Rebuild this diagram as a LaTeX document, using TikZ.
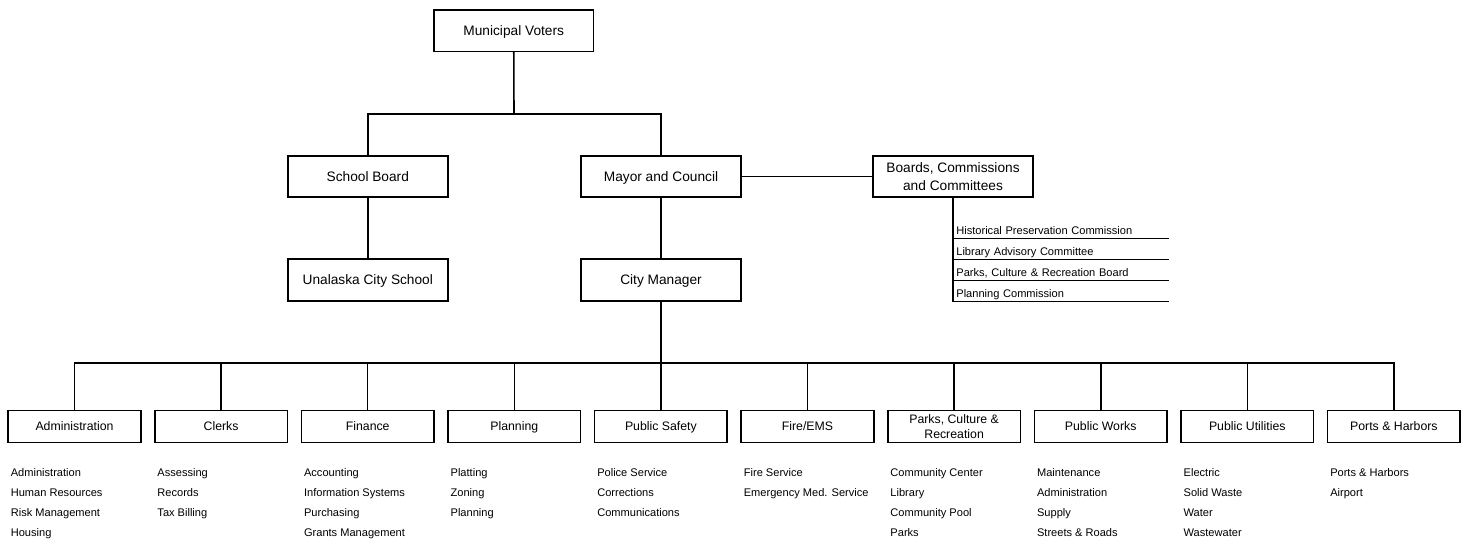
\documentclass[tikz,border=0pt]{standalone}
\usepackage{fontspec}
\setmainfont{Liberation Sans}
\tikzset{
  unit/.style={draw, line width=0.9pt, minimum width=3.2cm, minimum height=0.83cm,
    text depth=0pt, align=center, font=\fontsize{7.8}{10.2}\selectfont},
  dept/.style={draw, line width=0.9pt, minimum width=2.65cm, minimum height=0.64cm,
    inner sep=1pt, text depth=0pt, align=center, font=\fontsize{7}{8.3}\selectfont},
  duty/.style={anchor=north west, inner sep=0pt, align=left,
    font=\fontsize{6.3}{11.4}\selectfont},
  panel/.style={anchor=south west, inner xsep=0.06cm, inner ysep=0pt,
    text width=4.18cm, text height=0.17cm, text depth=0.08cm,
    font=\fontsize{6.3}{7.5}\selectfont}
}
\begin{document}
\begin{tikzpicture}[x=0.02cm, y=-0.02cm]
      \useasboundingbox (0,0) rectangle (1466,544);
      \draw
        (513.7,30.7) node[unit] (voters){Municipal Voters}
        (367.8,176.5) node[unit] (school){School Board}
        (661,176.5) node[unit] (mayor){Mayor and Council}
        (953,176.5) node[unit] (boards){Boards, Commissions\\and Committees}
        (367.8,280) node[unit] (ucs){Unalaska City School}
        (661,280) node[unit] (manager){City Manager};
      \draw
        (74.5,426.5) node[dept] (admin){Administration}
        (221.1,426.5) node[dept] (clerks){Clerks}
        (367.7,426.5) node[dept] (finance){Finance}
        (514.3,426.5) node[dept] (planning){Planning}
        (660.9,426.5) node[dept] (safety){Public Safety}
        (807.5,426.5) node[dept] (fire){Fire/EMS}
        (954.1,426.5) node[dept] (parks){Parks, Culture \&\\Recreation}
        (1100.7,426.5) node[dept] (works){Public Works}
        (1247.3,426.5) node[dept] (utilities){Public Utilities}
        (1393.9,426.5) node[dept] (ports){Ports \& Harbors};
      \draw
        (10.5,468) node[duty] (l0){Administration\\Human Resources\\Risk Management\\Housing}
        (157.1,468) node[duty] (l1){Assessing\\Records\\Tax Billing}
        (303.7,468) node[duty] (l2){Accounting\\Information Systems\\Purchasing\\Grants Management}
        (450.3,468) node[duty] (l3){Platting\\Zoning\\Planning}
        (596.9,468) node[duty] (l4){Police Service\\Corrections\\Communications}
        (743.5,468) node[duty] (l5){Fire Service\\Emergency Med. Service}
        (890.1,468) node[duty] (l6){Community Center\\Library\\Community Pool\\Parks}
        (1036.7,468) node[duty] (l7){Maintenance\\Administration\\Supply\\Streets \& Roads}
        (1183.3,468) node[duty] (l8){Electric\\Solid Waste\\Water\\Wastewater}
        (1329.9,468) node[duty] (l9){Ports \& Harbors\\Airport};
      \draw
        (953,238.5) node[panel] (c1){Historical Preservation Commission}
        (953,259.5) node[panel] (c2){Library Advisory Committee}
        (953,280.5) node[panel] (c3){Parks, Culture \& Recreation Board}
        (953,301.5) node[panel] (c4){Planning Commission};
      \coordinate (top) at (514,114);
      \coordinate (bar) at (661,363);
      \begin{scope}[-, line width=0.9pt]
        \draw (voters) to (top);
        \draw (top) -| (school);
        \draw (top) -| (mayor);
        \draw (school) to (ucs);
        \draw (mayor) to (manager);
        \draw (mayor) to (boards);
        \draw (boards.south) to (c4.south west);
        \draw (c1.south west) to (c1.south east);
        \draw (c2.south west) to (c2.south east);
        \draw (c3.south west) to (c3.south east);
        \draw (c4.south west) to (c4.south east);
        \draw (manager) to (bar);
        \draw (bar) -| (admin);
        \draw (bar) -| (clerks);
        \draw (bar) -| (finance);
        \draw (bar) -| (planning);
        \draw (bar) -| (safety);
        \draw (bar) -| (fire);
        \draw (bar) -| (parks);
        \draw (bar) -| (works);
        \draw (bar) -| (utilities);
        \draw (bar) -| (ports);
      \end{scope}
    \end{tikzpicture}
\end{document}
